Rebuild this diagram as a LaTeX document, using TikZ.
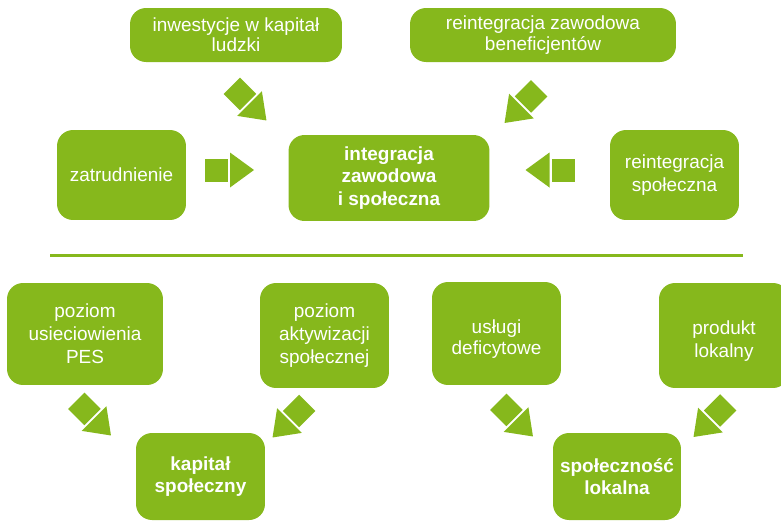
\documentclass[tikz,border=0pt]{standalone}
\usepackage{fontspec}
\setmainfont{Liberation Sans}
\usepackage{tikz}
\usetikzlibrary{positioning}

\definecolor{pesgreen}{RGB}{134,184,28}

% square + triangle arrow, local units are pixels
\newcommand{\blockarrow}[2]{%
    \begin{scope}[shift={#1},rotate=#2]
        \fill[pesgreen] (-25,-11.5) rectangle (-2,11.5);
        \fill[pesgreen] (0,-17.5) -- (24,0) -- (0,17.5) -- cycle;
    \end{scope}}

\begin{document}
\begin{tikzpicture}[x=0.02cm, y=-0.02cm,
    box/.style={fill=pesgreen, rounded corners=0.32cm, text=white, align=center,
        inner sep=0pt, font=\fontsize{10.8}{13.2}\selectfont},
    topbox/.style={box, font=\fontsize{10.8}{11.6}\selectfont},
    mainbox/.style={box, font=\bfseries\fontsize{10.8}{12.6}\selectfont}]
    \useasboundingbox (0,0) rectangle (781,525);
    % upper part
    \node[topbox, minimum width=4.24cm, minimum height=1.08cm] (inwest) at (236,35) {inwestycje w kapitał\\ludzki};
    \node[topbox, minimum width=5.32cm, minimum height=1.08cm] (reinzaw) at (543,35) {reintegracja zawodowa\\beneficjentów};
    \node[box, minimum width=2.58cm, minimum height=1.8cm] (zatr) at (121.5,175) {zatrudnienie};
    \node[mainbox, minimum width=4.02cm, minimum height=1.72cm] (integr) at (389,178) {integracja\\zawodowa\\i społeczna};
    \node[box, minimum width=2.58cm, minimum height=1.8cm] (reinspol) at (674.5,175) {reintegracja\\społeczna};
    \blockarrow{(249.5,103.5)}{-45}
    \blockarrow{(521.5,106)}{-135}
    \blockarrow{(230,170)}{0}
    \blockarrow{(549.5,170)}{180}
    % separator
    \draw[pesgreen, line width=1.7pt] (50,255) -- (743,255);
    % lower part
    \node[box, minimum width=3.12cm, minimum height=2.04cm] (poziompes) at (85,334) {poziom\\usieciowienia\\PES};
    \node[box, minimum width=2.58cm, minimum height=2.1cm] (poziomakt) at (324.5,335.5) {poziom\\aktywizacji\\społecznej};
    \node[topbox, minimum width=2.58cm, minimum height=2.06cm] (uslugi) at (496.5,333.5) {\rule{0pt}{14pt}usługi\\deficytowe};
    \node[box, minimum width=2.6cm, minimum height=2.1cm] (produkt) at (724,335.5) {\rule{0pt}{14pt}produkt\\lokalny};
    \node[mainbox, minimum width=2.58cm, minimum height=1.74cm] (kapital) at (200.5,476.5) {kapitał\\społeczny};
    \node[mainbox, minimum width=2.56cm, minimum height=1.74cm] (spolecz) at (617,476.5) {społeczność\\lokalna};
    \blockarrow{(94,418.5)}{-45}
    \blockarrow{(289.5,420.5)}{-135}
    \blockarrow{(516,419.5)}{-45}
    \blockarrow{(710.5,420)}{-135}
\end{tikzpicture}
\end{document}
